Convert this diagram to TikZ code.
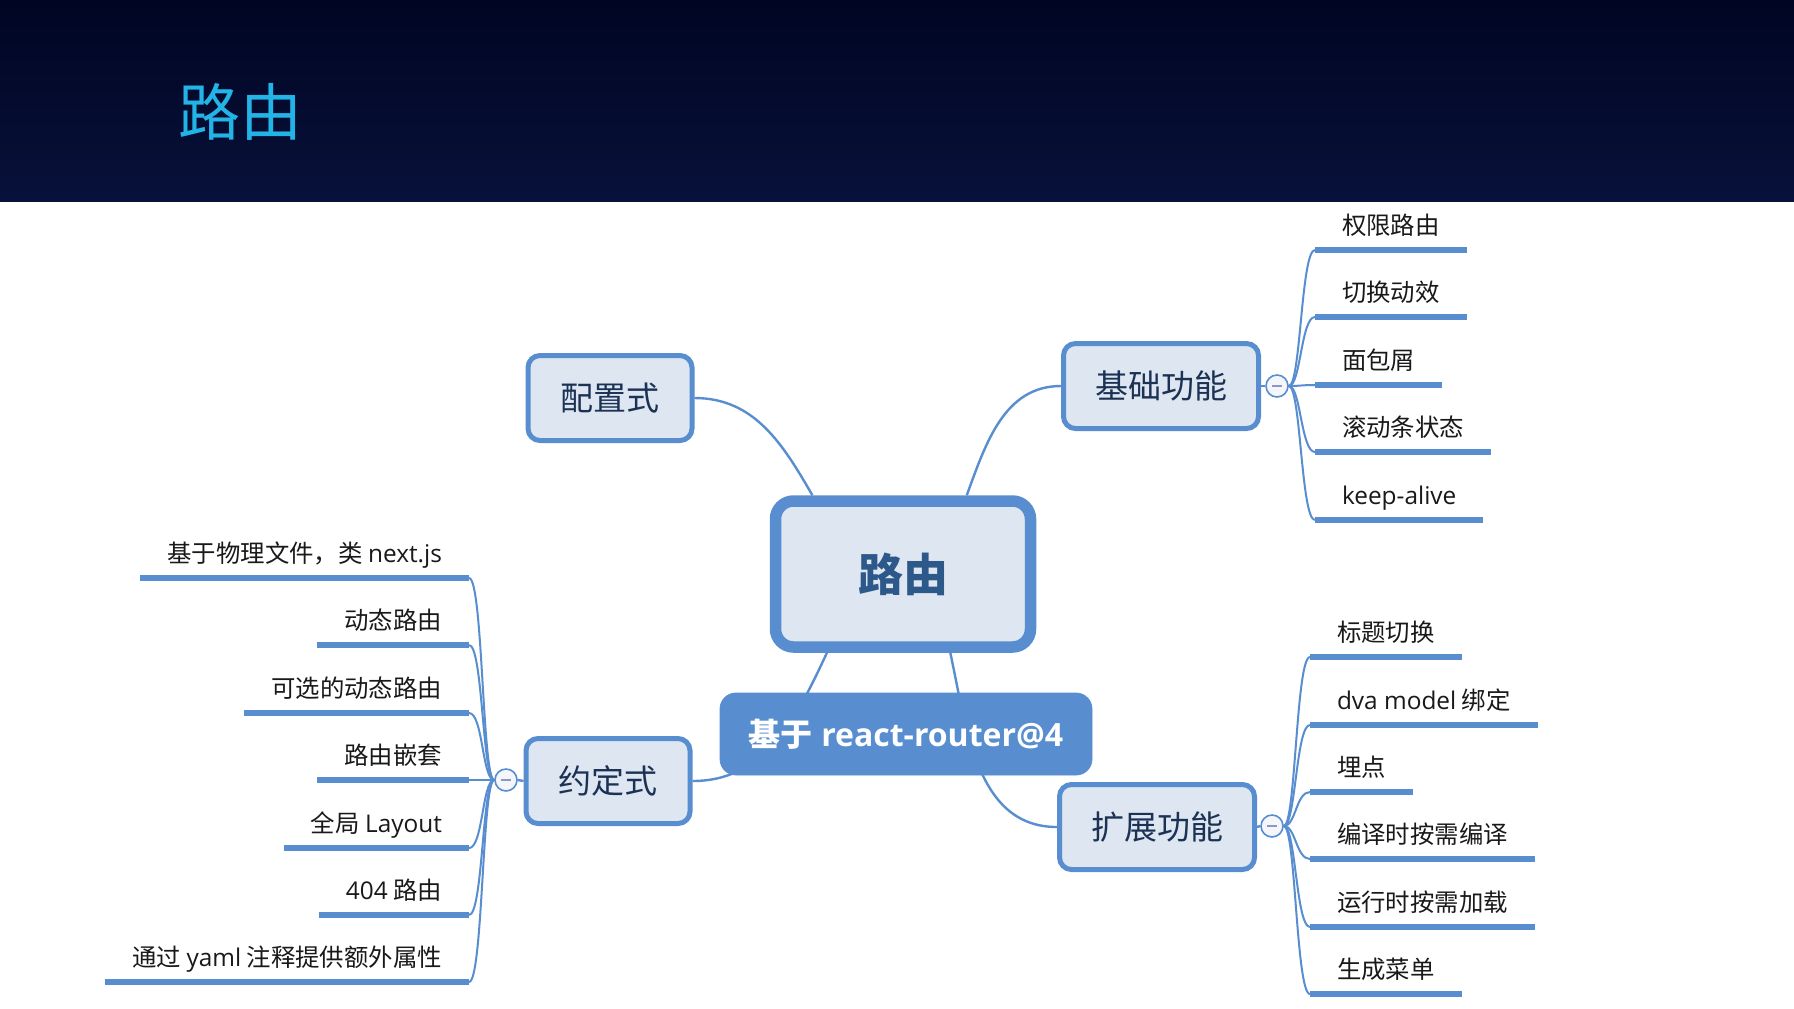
\documentclass[tikz,border=0pt]{standalone}
\usepackage{fontspec}
\setmainfont{Open Sans}
\newfontfamily\cjk{Noto Sans CJK SC}
\definecolor{mapblue}{RGB}{88,142,208}
\definecolor{topicfill}{RGB}{221,230,241}
\definecolor{roottext}{RGB}{45,88,138}
\definecolor{topictext}{RGB}{28,50,84}
\definecolor{bandtop}{RGB}{0,5,35}
\definecolor{bandbottom}{RGB}{8,17,58}
\definecolor{titlecyan}{RGB}{34,180,230}
\definecolor{foldfill}{RGB}{245,246,250}
\definecolor{foldmark}{RGB}{140,150,200}
\begin{document}
\begin{tikzpicture}[x=0.5pt, y=-0.5pt,
    root/.style={draw=mapblue, fill=topicfill, line width=5.75pt, rounded corners=9pt,
      minimum width=127.5pt, minimum height=73pt, text=roottext,
      font=\cjk\bfseries\fontsize{22.5pt}{26pt}\selectfont},
    topic/.style={draw=mapblue, fill=topicfill, line width=2.5pt, rounded corners=6pt,
      minimum height=42.5pt, text=topictext, font=\cjk\fontsize{16.5pt}{20pt}\selectfont},
    banner/.style={draw=mapblue, fill=mapblue, rounded corners=8pt, minimum width=186pt,
      minimum height=41pt, text=white, font=\bfseries\fontsize{16pt}{19pt}\selectfont},
    leaf/.style={font=\cjk\fontsize{12.2pt}{14pt}\selectfont, text=black!90, inner xsep=13.5pt,
      inner ysep=0pt, outer sep=0pt, text height=10pt, text depth=8pt},
    fold/.style={circle, draw=mapblue, fill=foldfill, line width=0.8pt, minimum size=11pt, inner sep=0pt,
      path picture={\draw[foldmark, line width=1pt] ([xshift=-2.5pt]path picture bounding box.center)
        -- ([xshift=2.5pt]path picture bounding box.center);}},
    link/.style={draw=mapblue, line width=1.2pt},
    branch/.style={draw=mapblue, line width=1pt},
    uline/.style={draw=mapblue, line width=3pt}]
    % Page and header band
    \fill[white] (0,0) rectangle (1794,1008);
    \fill[top color=bandtop, bottom color=bandbottom] (0,0) rectangle (1794,201);
    \node[font=\cjk\fontsize{31pt}{36pt}\selectfont, text=titlecyan] (title) at (240,112) {路由};

    % Central topic and main topics
    \node[root] (root) at (903,574) {路由};
    \node[topic, minimum width=82pt] (pz) at (610,398) {配置式};
    \node[topic, minimum width=97.5pt] (jc) at (1161,386) {基础功能};
    \node[topic, minimum width=82pt] (yd) at (608,781) {约定式};
    \node[topic, minimum width=97.5pt] (kz) at (1157,827) {扩展功能};

    \draw[link] (pz.east) to[out=0, in=120] (root.139);
    \draw[link] (root.51) to[out=70, in=180] (jc.west);
    \draw[link] (root.226) to[out=-115, in=0] (yd.east);
    \draw[link] (root.-59) to[out=-78, in=180] (kz.west);

    % Banner sits on top of the lower links
    \node[banner] (base) at (906,734) {{\cjk 基于} react-router@4};

    % Fold markers
    \node[fold] (jcf) at (1277,386) {};
    \node[fold] (ydf) at (506,780) {};
    \node[fold] (kzf) at (1272,826) {};
    \draw[link] (jc.east) -- (jcf.west);
    \draw[link] (yd.west) -- (ydf.east);
    \draw[link] (kz.east) -- (kzf.west);

    % Leaves of 基础功能
    \node[leaf, anchor=south west] (jc1) at (1315,250) {权限路由};
    \node[leaf, anchor=south west] (jc2) at (1315,317) {切换动效};
    \node[leaf, anchor=south west] (jc3) at (1315,385) {面包屑};
    \node[leaf, anchor=south west] (jc4) at (1315,452) {滚动条状态};
    \node[leaf, anchor=south west] (jc5) at (1315,520) {{\rmfamily keep-alive}};

    % Leaves of 扩展功能
    \node[leaf, anchor=south west] (kz1) at (1310,657) {标题切换};
    \node[leaf, anchor=south west] (kz2) at (1310,725) {{\rmfamily dva model} 绑定};
    \node[leaf, anchor=south west] (kz3) at (1310,792) {埋点};
    \node[leaf, anchor=south west] (kz4) at (1310,859) {编译时按需编译};
    \node[leaf, anchor=south west] (kz5) at (1310,927) {运行时按需加载};
    \node[leaf, anchor=south west] (kz6) at (1310,994) {生成菜单};

    % Leaves of 约定式
    \node[leaf, anchor=south east] (yd1) at (469,578) {基于物理文件，类 {\rmfamily next.js}};
    \node[leaf, anchor=south east] (yd2) at (469,645) {动态路由};
    \node[leaf, anchor=south east] (yd3) at (469,713) {可选的动态路由};
    \node[leaf, anchor=south east] (yd4) at (469,780) {路由嵌套};
    \node[leaf, anchor=south east] (yd5) at (469,848) {全局 {\rmfamily Layout}};
    \node[leaf, anchor=south east] (yd6) at (469,915) {{\rmfamily 404} 路由};
    \node[leaf, anchor=south east] (yd7) at (469,982) {通过 {\rmfamily yaml} 注释提供额外属性};

    \foreach \l in {jc1,jc2,jc3,jc4,jc5}{
      \draw[uline] (\l.south west) -- (\l.south east);
      \draw[branch] (jcf.east) .. controls +(12,0) and +(-14,0) .. (\l.south west);
    }
    \foreach \l in {kz1,kz2,kz3,kz4,kz5,kz6}{
      \draw[uline] (\l.south west) -- (\l.south east);
      \draw[branch] (kzf.east) .. controls +(12,0) and +(-14,0) .. (\l.south west);
    }
    \foreach \l in {yd1,yd2,yd3,yd4,yd5,yd6,yd7}{
      \draw[uline] (\l.south west) -- (\l.south east);
      \draw[branch] (ydf.west) .. controls +(-12,0) and +(14,0) .. (\l.south east);
    }
\end{tikzpicture}
\end{document}
